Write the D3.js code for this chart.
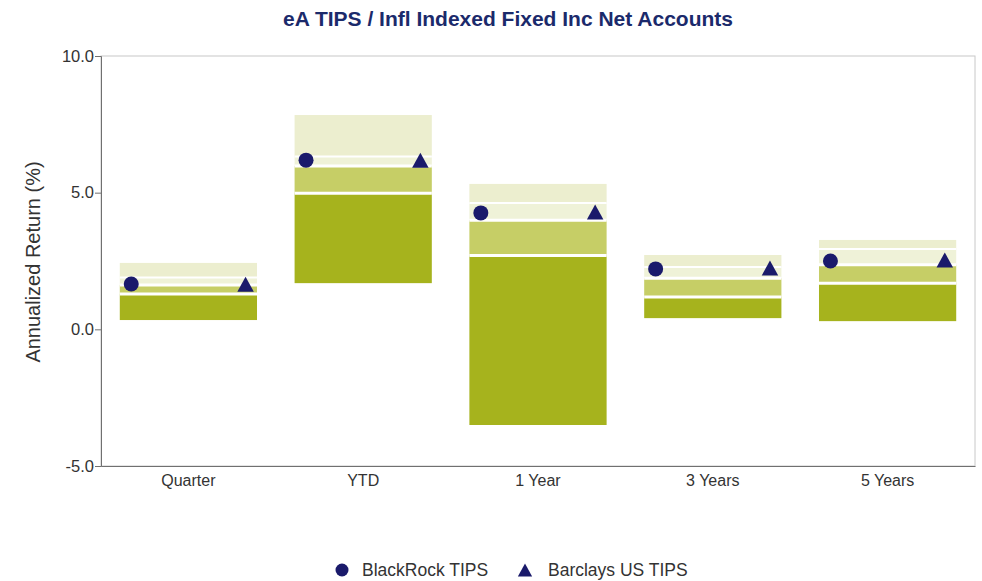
<!DOCTYPE html>
<html>
<head>
<meta charset="utf-8">
<script src="https://cdn.jsdelivr.net/npm/d3@7"></script>
<style>
  html, body { margin: 0; padding: 0; background: #fff; }
  svg { display: block; font-family: "Liberation Sans", Arial, sans-serif; }
</style>
</head>
<body>
<svg id="chart" width="982" height="581"></svg>
<script>
// Peer universe percentile ranges and fund / benchmark returns (annualized %)
const categories = ["Quarter", "YTD", "1 Year", "3 Years", "5 Years"];
const p5  = [2.43, 7.84, 5.32, 2.72, 3.27];
const p25 = [1.90, 6.32, 4.62, 2.28, 2.94];
const p50 = [1.62, 5.98, 3.99, 1.87, 2.36];
const p75 = [1.29, 4.98, 2.70, 1.18, 1.69];
const p95 = [0.34, 1.69, -3.50, 0.41, 0.30];
const blackrock = [1.66, 6.19, 4.26, 2.21, 2.50];
const barclays  = [1.65, 6.19, 4.29, 2.24, 2.54];
const yTicks = [-5, 0, 5, 10];
const seriesNames = ["BlackRock TIPS", "Barclays US TIPS"];

const svg = d3.select("#chart");
const margin = { left: 101, right: 975, top: 56, bottom: 466 };

const x = d3.scaleBand().domain(categories).range([margin.left, margin.right]).padding(0);
const y = d3.scaleLinear().domain([-5, 10]).range([margin.bottom, margin.top]);

const navy = "#1a1a6b";
const bandColors = ["#eceecf", "#eff2d8", "#c6ce66", "#a6b31d"];

// plot frame
svg.append("rect")
  .attr("x", margin.left).attr("y", margin.top)
  .attr("width", margin.right - margin.left).attr("height", margin.bottom - margin.top)
  .attr("fill", "none").attr("stroke", "#c8c8c8").attr("stroke-width", 1);

// floating percentile bars
const barW = x.bandwidth() * 0.785;
const g = svg.append("g");
categories.forEach((c, i) => {
  const cx = x(c) + x.bandwidth() / 2;
  const edges = [p5[i], p25[i], p50[i], p75[i], p95[i]];
  for (let k = 0; k < 4; k++) {
    g.append("rect")
      .attr("x", cx - barW / 2)
      .attr("y", y(edges[k]))
      .attr("width", barW)
      .attr("height", y(edges[k + 1]) - y(edges[k]))
      .attr("fill", bandColors[k]);
  }
  // white separators at the quartiles and median
  [p25[i], p50[i], p75[i]].forEach((v, j) => {
    g.append("line")
      .attr("x1", cx - barW / 2).attr("x2", cx + barW / 2)
      .attr("y1", y(v)).attr("y2", y(v))
      .attr("stroke", "#fff").attr("stroke-width", j === 0 ? 2 : 3);
  });
});

// markers
const off = x.bandwidth() * 0.327;
const triPath = (s) => `M0,${-s * 0.5}L${s * 0.55},${s * 0.5}L${-s * 0.55},${s * 0.5}Z`;
categories.forEach((c, i) => {
  const cx = x(c) + x.bandwidth() / 2;
  svg.append("circle")
    .attr("cx", cx - off).attr("cy", y(blackrock[i])).attr("r", 7.5)
    .attr("fill", navy);
  svg.append("path")
    .attr("d", triPath(15))
    .attr("transform", `translate(${cx + off},${y(barclays[i])})`)
    .attr("fill", navy);
});

// y axis
const fmt = (d) => d3.format(".1f")(d).replace("\u2212", "-");
const yAxis = d3.axisLeft(y).tickValues(yTicks).tickFormat(fmt).tickSizeOuter(0).tickSize(6).tickPadding(1);
const ya = svg.append("g").attr("transform", `translate(${margin.left},0)`).call(yAxis);
ya.select(".domain").attr("stroke", "#707070");
ya.selectAll(".tick line").attr("stroke", "#707070");
ya.selectAll(".tick text").attr("font-size", 16.5).attr("fill", "#333").attr("font-family", "Liberation Sans, Arial, sans-serif");

// x axis
const xAxis = d3.axisBottom(x).tickSize(0).tickPadding(9).tickSizeOuter(0);
const xa = svg.append("g").attr("transform", `translate(0,${margin.bottom})`).call(xAxis);
xa.select(".domain").attr("stroke", "#707070");
xa.selectAll(".tick text").attr("font-size", 16).attr("fill", "#333").attr("font-family", "Liberation Sans, Arial, sans-serif");

// axis title
svg.append("text")
  .attr("transform", `translate(40,${(margin.top + margin.bottom) / 2 + 1}) rotate(-90)`)
  .attr("text-anchor", "middle")
  .attr("font-size", 20).attr("fill", "#333")
  .text("Annualized Return (%)");

// chart title
svg.append("text")
  .attr("x", 508).attr("y", 26)
  .attr("text-anchor", "middle")
  .attr("font-size", 21).attr("font-weight", "bold").attr("fill", "#1b2a6b")
  .text("eA TIPS / Infl Indexed Fixed Inc Net Accounts");

// legend
const lg = svg.append("g").attr("transform", "translate(0,570)");
lg.append("circle").attr("cx", 342).attr("cy", 0).attr("r", 6.5).attr("fill", navy);
lg.append("text").attr("x", 362).attr("y", 6).attr("font-size", 17.5).attr("fill", "#333").text(seriesNames[0]);
lg.append("path").attr("d", triPath(13)).attr("transform", "translate(525,0)").attr("fill", navy);
lg.append("text").attr("x", 548).attr("y", 6).attr("font-size", 17.5).attr("fill", "#333").text(seriesNames[1]);
</script>
</body>
</html>
